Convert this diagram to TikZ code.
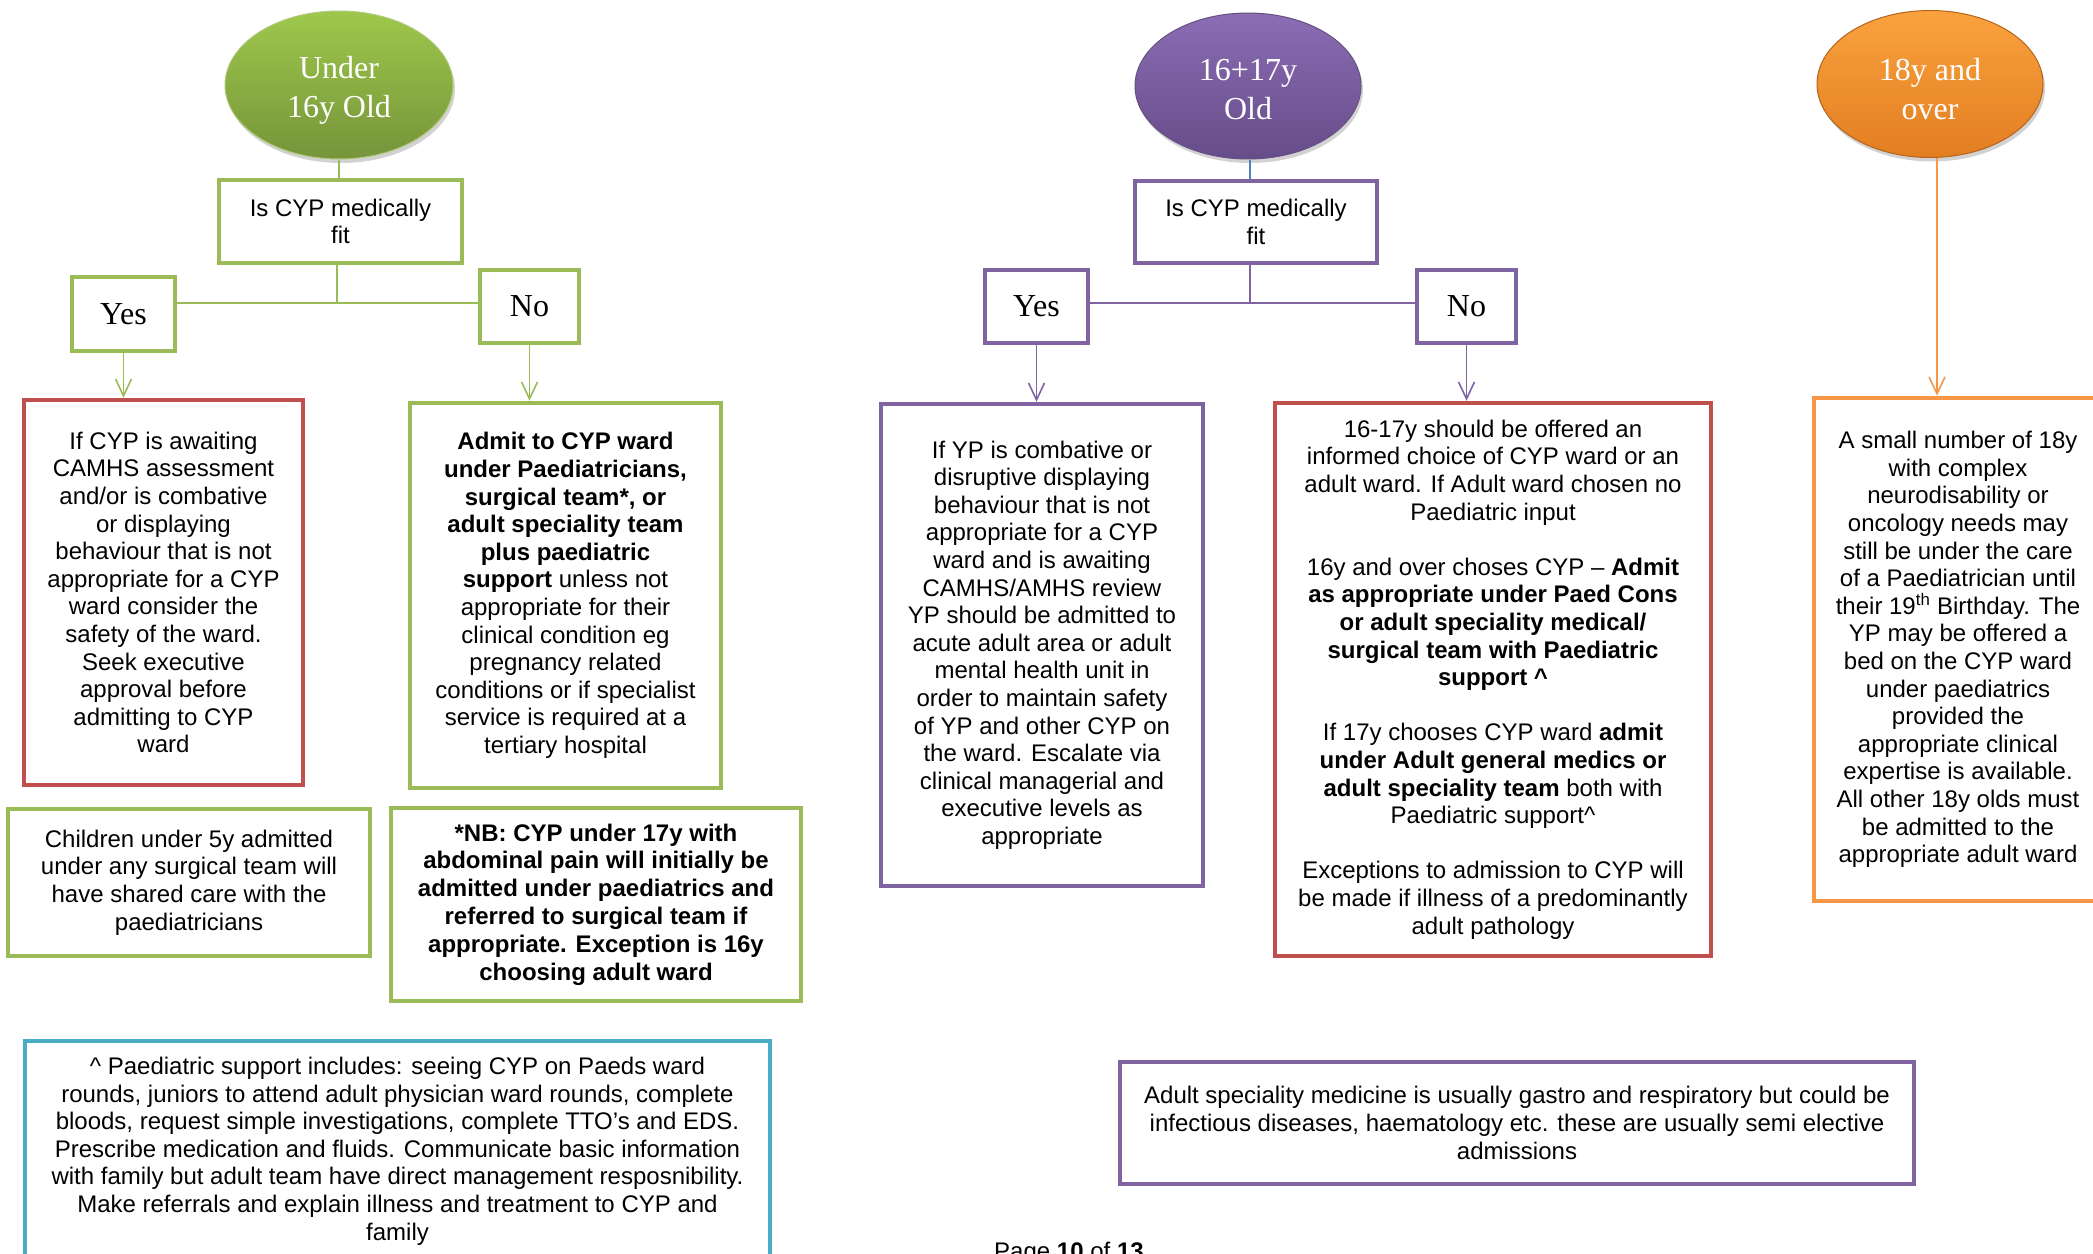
\documentclass[tikz,border=0pt]{standalone}
\usepackage{fontspec}
\setmainfont{Liberation Sans}
\newfontfamily\tms{Liberation Serif}
\usetikzlibrary{arrows.meta,shapes.geometric,shadows,calc}
\definecolor{cgreen}{HTML}{9BBB59}
\definecolor{cred}{HTML}{C0504D}
\definecolor{cpurple}{HTML}{8064A2}
\definecolor{corange}{HTML}{F79646}
\definecolor{cblue}{HTML}{4BACC6}
\definecolor{clink}{HTML}{4F81BD}
\definecolor{gtop}{HTML}{9EC84C}
\definecolor{gbot}{HTML}{76943A}
\definecolor{ptop}{HTML}{8A6DB3}
\definecolor{pbot}{HTML}{674C8A}
\definecolor{otop}{HTML}{FAA23E}
\definecolor{obot}{HTML}{E27E22}
\begin{document}
\begin{tikzpicture}[x=1pt,y=-1pt,
  txtbox/.style={draw, line width=4.5pt, inner sep=0pt, align=center, fill=white,
    font=\fontsize{24}{27.6}\selectfont},
  ynbox/.style={draw, line width=4.5pt, inner sep=0pt, fill=white,
    font=\tms\fontsize{32}{36}\selectfont},
  agebubble/.style={ellipse, inner sep=0pt, line width=1pt,
    drop shadow={opacity=0.35, shadow xshift=2pt, shadow yshift=-4pt}},
  bubbletext/.style={inner sep=0pt, text=white, align=center,
    font=\tms\fontsize{32}{39}\selectfont},
  conn/.style={line width=1.6pt},
  arr/.style={conn, -{Straight Barb[length=17pt,width=16pt]}}]
\useasboundingbox (0,0) rectangle (2093,1253);
\fill[white] (0,0) rectangle (2093,1253);

% ---------------- Under 16 ----------------
\node[agebubble, minimum width=228pt, minimum height=148pt, top color=gtop, bottom color=gbot, draw=cgreen!80!white] (e1) at (339,85) {};
\node[bubbletext] (e1t) at ($(e1.center)+(0,5)$) {Under\\16y Old};
\node[txtbox, draw=cgreen, minimum width=243pt, minimum height=83pt] (q1) at (340.5,221.5) {Is CYP medically\\fit};
\node[ynbox, draw=cgreen, minimum width=103pt, minimum height=74pt] (y1) at (123.5,314) {Yes};
\node[ynbox, draw=cgreen, minimum width=99pt, minimum height=73pt] (n1) at (529.5,306.5) {No};
\node[txtbox, draw=cred, minimum width=279pt, minimum height=385pt] (r1) at (163.5,592.5)
 {If CYP is awaiting\\CAMHS assessment\\and/or is combative\\or displaying\\behaviour that is not\\appropriate for a CYP\\ward consider the\\safety of the ward.\\Seek executive\\approval before\\admitting to CYP\\ward};
\node[txtbox, draw=cgreen, minimum width=311pt, minimum height=385pt] (a1) at (565.5,595.5)
 {\textbf{Admit to CYP ward}\\\textbf{under Paediatricians,}\\\textbf{surgical team*, or}\\\textbf{adult speciality team}\\\textbf{plus paediatric}\\\textbf{support} unless not\\appropriate for their\\clinical condition eg\\pregnancy related\\conditions or if specialist\\service is required at a\\tertiary hospital};
\node[txtbox, draw=cgreen, minimum width=362pt, minimum height=147pt] (c1) at (189,882.5)
 {Children under 5y admitted\\under any surgical team will\\have shared care with the\\paediatricians};
\node[txtbox, draw=cgreen, minimum width=410pt, minimum height=193pt, font=\fontsize{24}{27.8}\selectfont\bfseries] (nb) at (596,904.5)
 {*NB: CYP under 17y with\\abdominal pain will initially be\\admitted under paediatrics and\\referred to surgical team if\\appropriate. Exception is 16y\\choosing adult ward};
\node[txtbox, draw=cblue, minimum width=745pt, minimum height=220pt] (ps) at (397.5,1151)
 {\textasciicircum{} Paediatric support includes: seeing CYP on Paeds ward\\rounds, juniors to attend adult physician ward rounds, complete\\bloods, request simple investigations, complete TTO’s and EDS.\\Prescribe medication and fluids. Communicate basic information\\with family but adult team have direct management resposnibility.\\Make referrals and explain illness and treatment to CYP and\\family};

\coordinate (j1) at (337,303);
\draw[conn, cgreen] (e1.south) -- (e1.south |- q1.north);
\draw[conn, cgreen] (j1 |- q1.south) -- (j1);
\draw[conn, cgreen] (y1.east |- j1) -- (n1.west |- j1);
\draw[arr, cgreen] (y1.south) -- (y1.south |- r1.north);
\draw[arr, cgreen] (n1.south) -- (n1.south |- a1.north);

% ---------------- 16+17 ----------------
\node[agebubble, minimum width=226pt, minimum height=146pt, top color=ptop, bottom color=pbot, draw=cpurple!80!black] (e2) at (1248,86) {};
\node[bubbletext] (e2t) at ($(e2.center)+(0,4)$) {16+17y\\Old};
\node[txtbox, draw=cpurple, minimum width=242pt, minimum height=82pt] (q2) at (1256,222) {Is CYP medically\\fit};
\node[ynbox, draw=cpurple, minimum width=103pt, minimum height=73pt] (y2) at (1036.5,306.5) {Yes};
\node[ynbox, draw=cpurple, minimum width=99pt, minimum height=73pt] (n2) at (1466.5,306.5) {No};
\node[txtbox, draw=cpurple, minimum width=322pt, minimum height=482pt] (p1) at (1042,645)
 {If YP is combative or\\disruptive displaying\\behaviour that is not\\appropriate for a CYP\\ward and is awaiting\\CAMHS/AMHS review\\YP should be admitted to\\acute adult area or adult\\mental health unit in\\order to maintain safety\\of YP and other CYP on\\the ward. Escalate via\\clinical managerial and\\executive levels as\\appropriate};
\node[txtbox, draw=cred, minimum width=436pt, minimum height=553pt] (r2) at (1493,679.5)
 {16-17y should be offered an\\informed choice of CYP ward or an\\adult ward. If Adult ward chosen no\\Paediatric input\\[27.6pt]16y and over choses CYP – \textbf{Admit}\\\textbf{as appropriate under Paed Cons}\\\textbf{or adult speciality medical/}\\\textbf{surgical team with Paediatric}\\\textbf{support \textasciicircum}\\[27.6pt]If 17y chooses CYP ward \textbf{admit}\\\textbf{under Adult general medics or}\\\textbf{adult speciality team} both with\\Paediatric support\textasciicircum\\[27.6pt]Exceptions to admission to CYP will\\be made if illness of a predominantly\\adult pathology};
\node[txtbox, draw=cpurple, minimum width=794pt, minimum height=122pt] (sp) at (1517,1123)
 {Adult speciality medicine is usually gastro and respiratory but could be\\infectious diseases, haematology etc. these are usually semi elective\\admissions};

\coordinate (j2) at (1250,303);
\draw[conn, clink] (j2 |- e2.south) -- (j2 |- q2.north);
\draw[conn, cpurple] (j2 |- q2.south) -- (j2);
\draw[conn, cpurple] (y2.east |- j2) -- (n2.west |- j2);
\draw[arr, cpurple] (y2.south) -- (y2.south |- p1.north);
\draw[arr, cpurple] (n2.south) -- (n2.south |- r2.north);

% ---------------- 18 and over ----------------
\node[agebubble, minimum width=226pt, minimum height=147pt, top color=otop, bottom color=obot, draw=obot!80!black] (e3) at (1930,84) {};
\node[bubbletext] (e3t) at ($(e3.center)+(0,5)$) {18y and\\over};
\node[txtbox, draw=corange, minimum width=288pt, minimum height=503pt] (o1) at (1958,649.5)
 {A small number of 18y\\with complex\\neurodisability or\\oncology needs may\\still be under the care\\of a Paediatrician until\\their 19\textsuperscript{th} Birthday. The\\YP may be offered a\\bed on the CYP ward\\under paediatrics\\provided the\\appropriate clinical\\expertise is available.\\All other 18y olds must\\be admitted to the\\appropriate adult ward};
\coordinate (oa) at (1937,0);
\draw[arr, corange] (oa |- e3.south) -- (oa |- o1.north);

% ---------------- page footer ----------------
\node[anchor=base west, inner sep=0pt, font=\fontsize{24}{27.6}\selectfont] (pg) at (994,1259) {Page \textbf{10} of \textbf{13}};
\end{tikzpicture}
\end{document}
